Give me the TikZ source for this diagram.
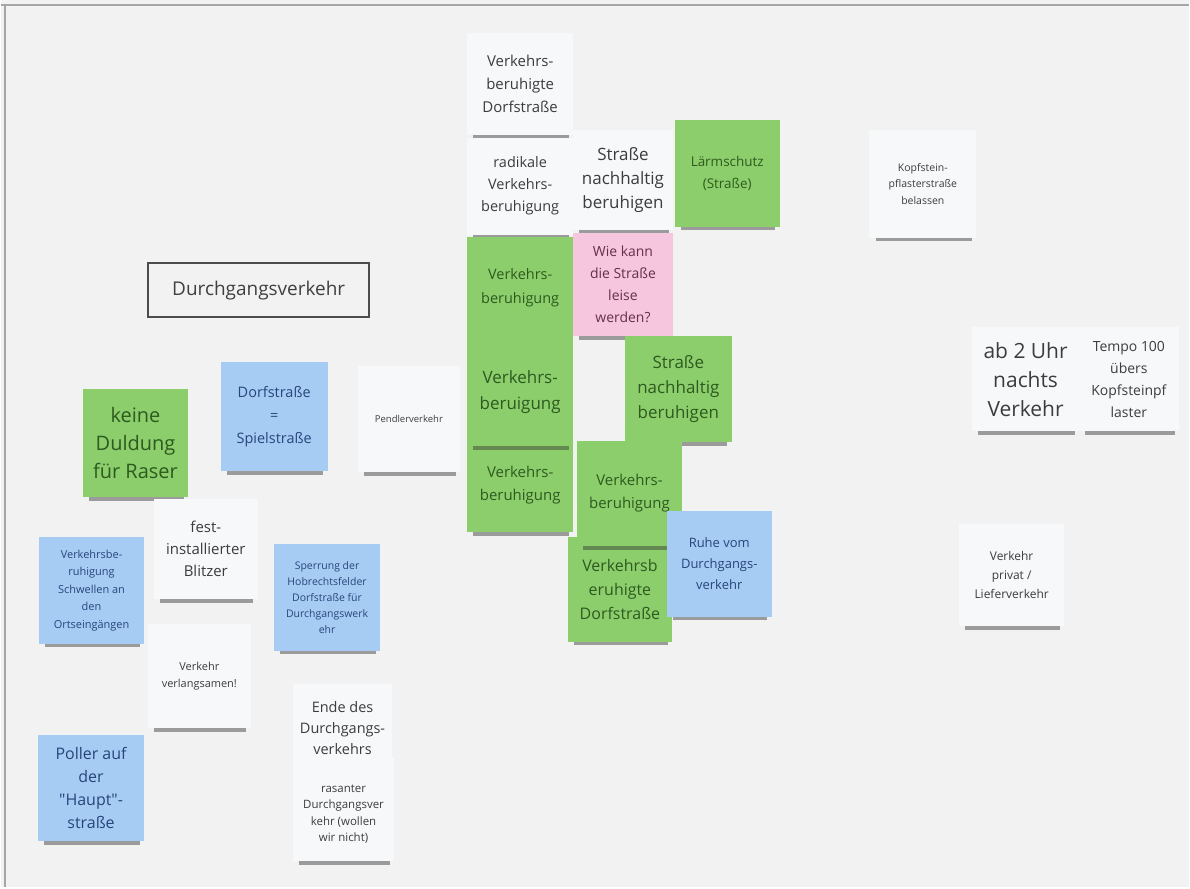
\documentclass[tikz,border=0pt]{standalone}
\usepackage{fontspec}
\setmainfont{Open Sans}
\newfontfamily\qfont{Open Sans}
\usetikzlibrary{shadows}

\definecolor{boardbg}{HTML}{F2F2F2}
\definecolor{boardline}{HTML}{A6A6A6}
\definecolor{notegreen}{HTML}{8DCE6C}
\definecolor{noteblue}{HTML}{A7CCF4}
\definecolor{notepink}{HTML}{F6C6DE}
\definecolor{notewhite}{HTML}{F7F8FA}
\definecolor{txtgreen}{HTML}{2D5A1F}
\definecolor{txtblue}{HTML}{27457A}
\definecolor{txtpink}{HTML}{66304A}
\definecolor{txtgray}{HTML}{3C3C3C}

\begin{document}
\begin{tikzpicture}[
    x=1pt, y=-1pt,
    fs/.style 2 args={font=\fontsize{#1}{#2}\selectfont},
    note/.style={rectangle, inner sep=0pt, align=center,
                 minimum width=105pt, minimum height=105pt,
                 drop shadow={shadow scale=0.9, shadow xshift=1pt, shadow yshift=-10pt,
                              fill=black!80, opacity=0.45}},
    greennote/.style={note, fill=notegreen, text=txtgreen},
    bluenote/.style={note, fill=noteblue, text=txtblue},
    pinknote/.style={note, fill=notepink, text=txtpink},
    whitenote/.style={note, fill=notewhite, text=txtgray},
    titlebox/.style={rectangle, draw=black!70, line width=2pt, minimum width=222pt,
                     minimum height=54pt, text=black!75, fs={19}{24}}
]
% Board
\fill[boardbg] (0,0) rectangle (1190,889);
\draw[boardline, line width=2.5pt] (0,5) -- (1190,5);
\draw[boardline, line width=2pt] (4,5) -- (4,889);

% Title
\node[titlebox] (title) at (258,291) {Durchgangsverkehr};

% Middle cluster
\node[whitenote, minimum width=106pt, minimum height=102pt, fs={15}{23}] (vbdorf) at (520,84) {Verkehrs-\\beruhigte\\Dorfstraße};
\node[whitenote, minimum width=106pt, minimum height=97pt, fs={14.5}{22}] (radikal) at (520,186.5) {radikale\\Verkehrs-\\beruhigung};
\node[whitenote, minimum width=100pt, minimum height=100pt, fs={17}{24}] (nachhw) at (623,180) {Straße\\nachhaltig\\beruhigen};
\node[greennote, minimum height=107pt, fs={13.5}{22}] (laerm) at (727.5,173.5) {Lärmschutz\\(Straße)};
\node[greennote, minimum width=106pt, minimum height=103pt, fs={14.5}{24}] (vb1) at (520,288.5) {Verkehrs-\\beruhigung};
\node[pinknote, minimum width=100pt, minimum height=104pt, fs={14}{22}] (leise) at (623,285) {Wie kann\\die Straße\\leise\\werden?};
\node[greennote, minimum width=106pt, fs={15}{23}] (vb3) at (520,480.5) {\\Verkehrs-\\beruhigung};
\node[greennote, minimum width=106pt, minimum height=109pt, fs={17}{26}] (vb2) at (520,392.5) {Verkehrs-\\beruigung};
\node[greennote, minimum width=107pt, minimum height=106pt, fs={17}{25}] (nachhg) at (678.5,390) {Straße\\nachhaltig\\beruhigen};
\node[greennote, minimum width=104pt, fs={16}{24}] (vbdorf2) at (620,590.5) {Verkehrsb\\eruhigte\\Dorfstraße};
\node[greennote, fs={15}{23}] (vb4) at (629.5,494.5) {Verkehrs-\\beruhigung};
\node[bluenote, minimum height=106pt, fs={13}{21}] (ruhe) at (719.5,565) {Ruhe vom\\Durchgangs-\\verkehr};

% Left cluster
\node[greennote, minimum height=108pt, fs={20}{28}] (raser) at (134.5,444) {keine\\Duldung\\für Raser};
\node[bluenote, minimum width=107pt, minimum height=109pt, fs={14.5}{23}] (spiel) at (273.5,417.5) {Dorfstraße\\=\\Spielstraße};
\node[whitenote, minimum width=103pt, minimum height=106pt, fs={9.5}{13}] (pendler) at (408.5,420) {Pendlerverkehr};
\node[whitenote, minimum width=103pt, fs={11}{17}] (langsam) at (198.5,677.5) {Verkehr\\verlangsamen!};
\node[whitenote, minimum width=104pt, minimum height=100pt, fs={15}{22.5}] (blitzer) at (205,550) {fest-\\installierter\\Blitzer};
\node[bluenote, minimum height=107pt, fs={11}{17.5}] (schwellen) at (90.5,591.5) {Verkehrsbe-\\ruhigung\\Schwellen an\\den\\Ortseingängen};
\node[bluenote, minimum width=107pt, minimum height=107pt, fs={10.5}{16}] (sperrung) at (326.5,598.5) {Sperrung der\\Hobrechtsfelder\\Dorfstraße für\\Durchgangswerk\\ehr};
\node[whitenote, minimum width=100pt, minimum height=90pt, fs={14.5}{21}] (ende) at (342,730) {Ende des\\Durchgangs-\\verkehrs};
\node[whitenote, minimum width=102pt, minimum height=103pt, fs={11.5}{16.5}] (rasant) at (343,811.5) {\\rasanter\\Durchgangsver\\kehr (wollen\\wir nicht)};
\node[bluenote, minimum width=106pt, minimum height=106pt, fs={16}{23}] (poller) at (90,790) {Poller auf\\der\\{\qfont"}Haupt{\qfont"}-\\straße};

% Right cluster
\node[whitenote, minimum width=107pt, minimum height=108pt, fs={10.5}{16.5}] (kopf) at (923.5,184) {Kopfstein-\\pflasterstraße\\belassen};
\node[whitenote, minimum width=107pt, minimum height=104pt, fs={21}{29}] (nachts) at (1026.5,380) {ab 2 Uhr\\nachts\\Verkehr};
\node[whitenote, minimum width=100pt, minimum height=104pt, fs={14}{22}] (tempo) at (1130,380) {Tempo 100\\übers\\Kopfsteinpf\\laster};
\node[whitenote, minimum height=102pt, fs={12}{19}] (liefer) at (1012.5,576) {Verkehr\\privat /\\Lieferverkehr};
\end{tikzpicture}
\end{document}
